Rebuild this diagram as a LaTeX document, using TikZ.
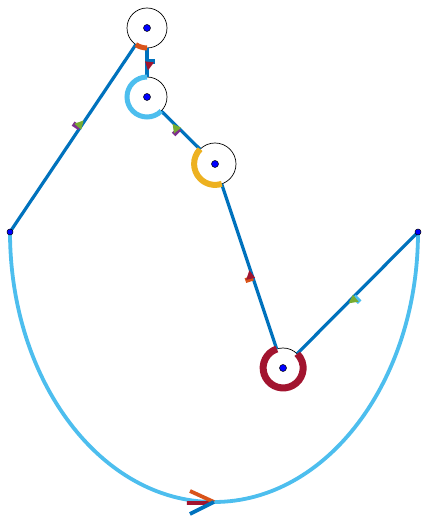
\documentclass[tikz,border=0pt]{standalone}
\usetikzlibrary{decorations.markings}

\definecolor{mblue}{HTML}{0072BD}
\definecolor{morange}{HTML}{D95319}
\definecolor{myellow}{HTML}{EDB120}
\definecolor{mpurple}{HTML}{7E2F8E}
\definecolor{mgreen}{HTML}{77AC30}
\definecolor{mcyan}{HTML}{4DBEEE}
\definecolor{mred}{HTML}{A2142F}

\begin{document}
\begin{tikzpicture}[x=1pt,y=1pt,
	wheel/.style={circle,draw=black,line width=0.7pt,minimum size=40pt,inner sep=0pt,outer sep=0pt},
	hub/.style={circle,fill=blue,draw=black,line width=0.5pt,minimum size=7pt,inner sep=0pt},
	seg/.style={mblue,line width=3.2pt},
	flag/.style n args={3}{postaction={decorate},decoration={markings,
		mark=at position #1 with {\fill[#2] (-6,0) rectangle (-1,8);
			\fill[#3] (-4,-2) -- (5,1) -- (-3,7) -- cycle;}}}]
	\useasboundingbox (0,0) rectangle (422,519);
	% ends and wheels
	\coordinate (A) at (10,287);
	\coordinate (B) at (418,287);
	\node[wheel] (c1) at (147,491) {};
	\node[wheel] (c2) at (147,422) {};
	\node[wheel,minimum size=42pt] (c3) at (215,355) {};
	\node[wheel] (c4) at (283,151) {};
	% big swing below
	\draw[mcyan,line width=3.8pt,postaction={decorate},decoration={markings,
		mark=at position 0.5 with {
			\draw[mred,line width=3.8pt] (-27,-1) -- (-3,-1);
			\draw[morange,line width=3.8pt] (-24,11) -- (0,0);
			\draw[mblue,line width=3.8pt] (-24,-12) -- (0,0);}}]
		(A) arc[start angle=180,end angle=360,x radius=204,y radius=270];
	% straight legs
	\draw[seg,flag={0.57}{mpurple}{mgreen}] (A) -- (c1);
	\draw[seg,flag={0.6}{mblue}{mred}] (c1) -- (c2);
	\draw[seg,flag={0.6}{mpurple}{mgreen}] (c3) -- (c2);
	\draw[seg,flag={0.45}{morange}{mred}] (c4) -- (c3);
	\draw[seg,flag={0.55}{mcyan}{mgreen}] (B) -- (c4);
	% turns on the wheels
	\draw[morange,line width=5pt] (c1.236.1) arc[start angle=236.1,end angle=270,radius=20];
	\draw[mcyan,line width=5pt] (c2.90) arc[start angle=90,end angle=315.4,radius=20];
	\draw[myellow,line width=6pt] (c3.135.4) arc[start angle=135.4,end angle=288.4,radius=21];
	\draw[mred,line width=7pt] (c4.108.4) arc[start angle=108.4,end angle=405.2,radius=20];
	% centres
	\foreach \c in {c1,c2,c3,c4}
		\node[hub] at (\c) {};
	\node[hub,minimum size=6pt] (pA) at (A) {};
	\node[hub,minimum size=6pt] (pB) at (B) {};
\end{tikzpicture}
\end{document}
